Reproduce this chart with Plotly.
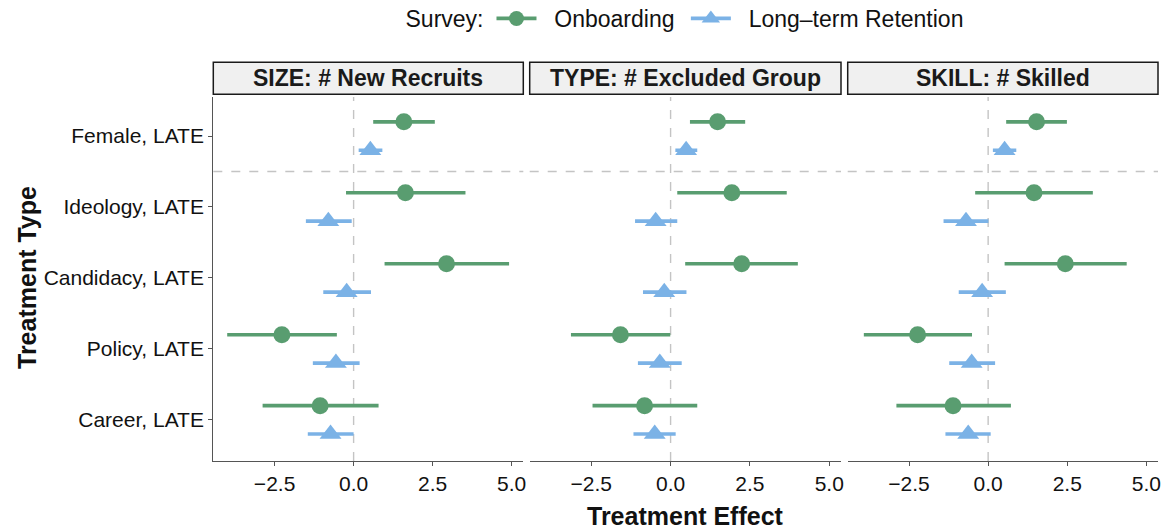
import plotly.graph_objects as go

# ---------------- data ----------------
categories = ["Female, LATE", "Ideology, LATE", "Candidacy, LATE", "Policy, LATE", "Career, LATE"]
panels = ["SIZE: # New Recruits", "TYPE: # Excluded Group", "SKILL: # Skilled"]
surveys = ["Onboarding", "Long\u2013term Retention"]

# Onboarding estimates / CI per panel
size_onb = [1.59, 1.64, 2.94, -2.27, -1.06]
size_onb_lo = [0.62, -0.24, 0.98, -4.00, -2.88]
size_onb_hi = [2.57, 3.54, 4.92, -0.53, 0.79]
size_lt = [0.53, -0.80, -0.22, -0.56, -0.73]
size_lt_lo = [0.16, -1.51, -0.96, -1.29, -1.45]
size_lt_hi = [0.91, -0.06, 0.55, 0.19, 0.00]

type_onb = [1.48, 1.93, 2.24, -1.58, -0.82]
type_onb_lo = [0.61, 0.21, 0.46, -3.14, -2.46]
type_onb_hi = [2.35, 3.66, 4.01, -0.01, 0.84]
type_lt = [0.49, -0.47, -0.20, -0.34, -0.50]
type_lt_lo = [0.15, -1.12, -0.87, -1.03, -1.17]
type_lt_hi = [0.84, 0.21, 0.50, 0.35, 0.16]

skill_onb = [1.53, 1.45, 2.44, -2.23, -1.11]
skill_onb_lo = [0.57, -0.41, 0.52, -3.93, -2.90]
skill_onb_hi = [2.49, 3.31, 4.38, -0.51, 0.72]
skill_lt = [0.52, -0.70, -0.19, -0.52, -0.63]
skill_lt_lo = [0.15, -1.41, -0.93, -1.23, -1.35]
skill_lt_hi = [0.89, 0.01, 0.56, 0.22, 0.08]

x_ticks = [-2.5, 0.0, 2.5, 5.0]

# ---------------- styling ----------------
GREEN = "#599D70"
BLUE = "#7BB2E6"
FONT = "Liberation Sans, Arial, Helvetica, sans-serif"
AXIS_COL = "#555555"
DODGE = 0.2
NB = "\u00a0"

panel_data = [
    (size_onb, size_onb_lo, size_onb_hi, size_lt, size_lt_lo, size_lt_hi),
    (type_onb, type_onb_lo, type_onb_hi, type_lt, type_lt_lo, type_lt_hi),
    (skill_onb, skill_onb_lo, skill_onb_hi, skill_lt, skill_lt_lo, skill_lt_hi),
]

W, H = 1165, 531
ML, MR, MT, MB = 213, 7, 97, 70
PW = W - ML - MR
PH = H - MT - MB
px_domains = [(213.3, 523.3), (529.7, 841.0), (847.7, 1158.0)]
domains = [((a - ML) / PW, (b - ML) / PW) for a, b in px_domains]

fig = go.Figure()
ypos = list(range(len(categories)))

for i, (onb, onb_lo, onb_hi, lt, lt_lo, lt_hi) in enumerate(panel_data):
    xa = "x" if i == 0 else f"x{i+1}"
    for vals, lo, hi, off, col, sym, size, name in [
        (onb, onb_lo, onb_hi, -DODGE, GREEN, "circle", 17, surveys[0]),
        (lt, lt_lo, lt_hi, DODGE, BLUE, "triangle-up", 19, surveys[1]),
    ]:
        fig.add_trace(go.Scatter(
            x=vals,
            y=[p + off for p in ypos],
            mode="markers",
            marker=dict(color=col, size=size, symbol=sym, line=dict(width=0)),
            error_x=dict(type="data", symmetric=False,
                         array=[h - v for h, v in zip(hi, vals)],
                         arrayminus=[v - l for v, l in zip(vals, lo)],
                         color=col, thickness=3.6, width=0),
            xaxis=xa, yaxis="y", showlegend=False, name=name,
            hoverinfo="x+name",
        ))

# legend-only traces
fig.add_trace(go.Scatter(x=[None], y=[None], mode="lines+markers", name=NB * 2 + surveys[0] + NB,
                         line=dict(color=GREEN, width=3.8),
                         marker=dict(color=GREEN, size=15, symbol="circle"),
                         xaxis="x", yaxis="y"))
fig.add_trace(go.Scatter(x=[None], y=[None], mode="lines+markers", name=NB * 2 + surveys[1],
                         line=dict(color=BLUE, width=3.8),
                         marker=dict(color=BLUE, size=16, symbol="triangle-up"),
                         xaxis="x", yaxis="y"))

xrange = [-4.44, 5.37]
axis_common = dict(
    range=xrange, tickvals=x_ticks, tickformat=".1f",
    showgrid=False, zeroline=False, showline=True, linecolor=AXIS_COL, linewidth=1.3,
    ticks="outside", ticklen=4, tickcolor=AXIS_COL, tickwidth=1.2,
    tickfont=dict(family=FONT, size=21, color="#111111"), anchor="y",
)
layout_axes = {}
for i, d in enumerate(domains):
    key = "xaxis" if i == 0 else f"xaxis{i+1}"
    layout_axes[key] = dict(domain=list(d), **axis_common)

fig.update_layout(
    **layout_axes,
    yaxis=dict(
        range=[4.58, -0.55], tickvals=ypos, ticktext=categories,
        showgrid=False, zeroline=False, showline=True, linecolor=AXIS_COL, linewidth=1.3,
        ticks="outside", ticklen=4, tickcolor=AXIS_COL, tickwidth=1.2,
        tickfont=dict(family=FONT, size=21, color="#111111"), anchor="x",
    ),
    width=W, height=H,
    margin=dict(l=ML, r=MR, t=MT, b=MB, autoexpand=False),
    plot_bgcolor="white", paper_bgcolor="white",
    font=dict(family=FONT, color="#111111"),
    legend=dict(
        orientation="h", x=(686 - ML) / PW, xanchor="center", y=1 + (MT + 3) / PH, yanchor="top",
        title=dict(text="Survey:", font=dict(family=FONT, size=23, color="#111111")),
        font=dict(family=FONT, size=23, color="#111111"),
        bgcolor="rgba(0,0,0,0)", itemwidth=40,
    ),
)

shapes = []
annotations = []
for i, (d, title) in enumerate(zip(domains, panels)):
    xa = "x" if i == 0 else f"x{i+1}"
    shapes.append(dict(type="line", xref=xa, yref="y domain", x0=0, x1=0, y0=0, y1=1,
                       line=dict(color="#C4C4C4", width=1.4, dash="dash"), layer="below"))
    shapes.append(dict(type="line", xref=f"{xa} domain", yref="y", x0=0, x1=1, y0=0.5, y1=0.5,
                       line=dict(color="#C4C4C4", width=1.4, dash="dash"), layer="below"))
    y_lo = 1 + (MT - 94.3) / PH
    y_hi = 1 + (MT - 62.3) / PH
    shapes.append(dict(type="rect", xref="paper", yref="paper", x0=d[0], x1=d[1], y0=y_lo, y1=y_hi,
                       fillcolor="#F0F0F0", line=dict(color="#1a1a1a", width=1.5)))
    annotations.append(dict(text=f"<b>{title}</b>", xref="paper", yref="paper",
                            x=(d[0] + d[1]) / 2, y=(y_lo + y_hi) / 2, xanchor="center", yanchor="middle",
                            showarrow=False, font=dict(family=FONT, size=23, color="#1a1a1a")))

annotations.append(dict(text="<b>Treatment Effect</b>", xref="paper", yref="paper",
                        x=(685.5 - ML) / PW, y=-(516 - (H - MB)) / PH, xanchor="center", yanchor="middle",
                        showarrow=False, font=dict(family=FONT, size=25, color="#111111")))
annotations.append(dict(text="<b>Treatment Type</b>", xref="paper", yref="paper",
                        x=(27 - ML) / PW, y=((H - MB) - 278) / PH, xanchor="center", yanchor="middle",
                        textangle=-90, showarrow=False, font=dict(family=FONT, size=25, color="#111111")))

fig.update_layout(shapes=shapes, annotations=annotations)
fig.write_html("out.html", config={"displayModeBar": False},
               post_script="document.body.style.margin='0';document.body.style.overflow='hidden';")
